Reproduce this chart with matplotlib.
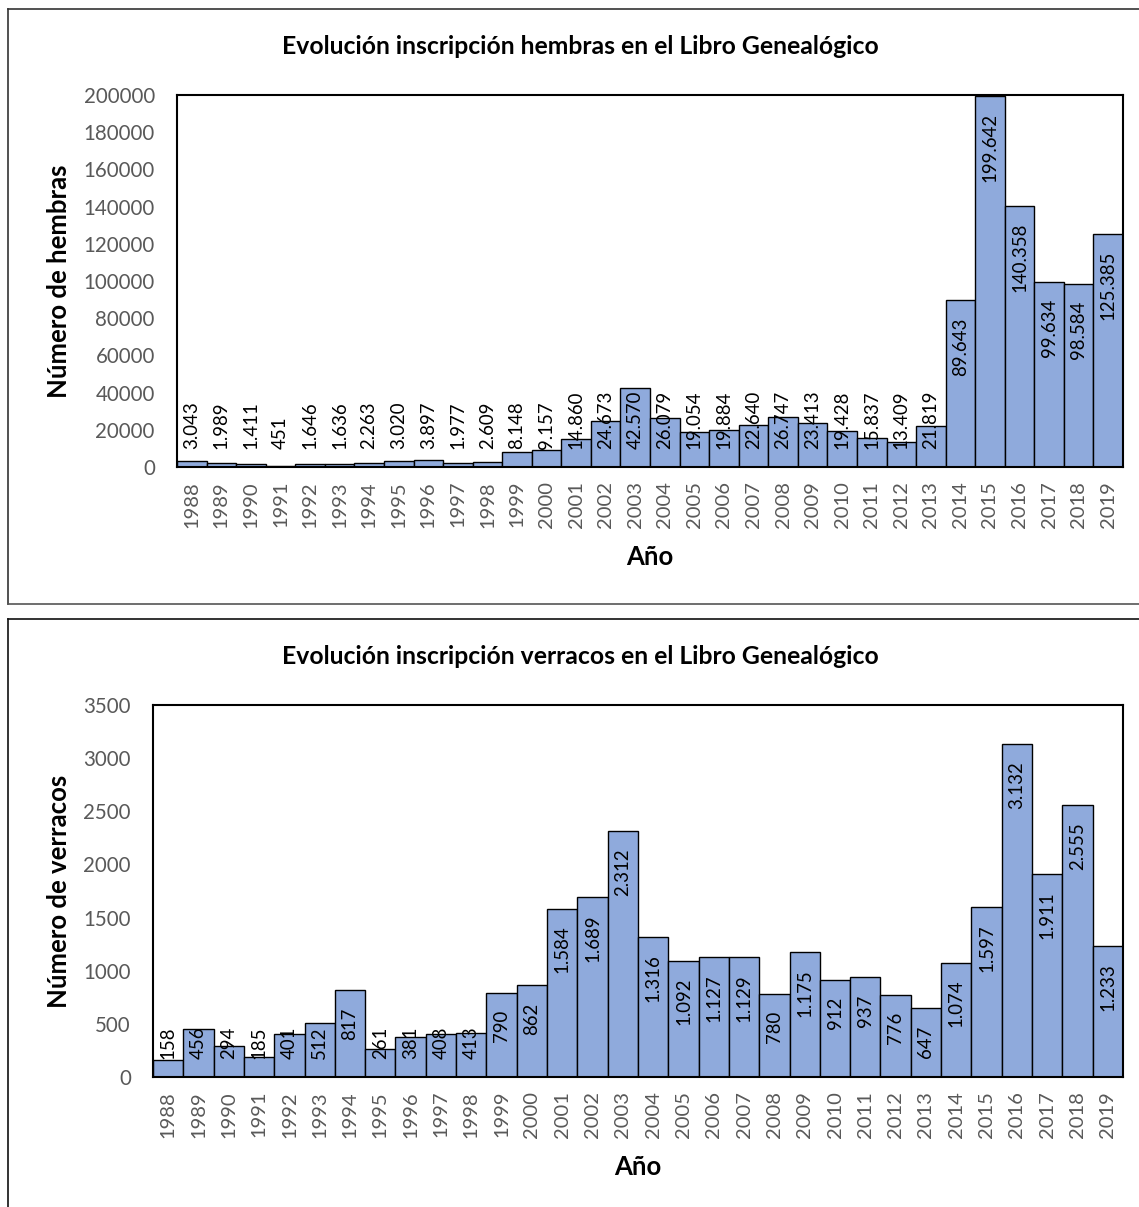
import matplotlib
matplotlib.use("Agg")
import matplotlib.pyplot as plt
from matplotlib.lines import Line2D

plt.rcParams['font.family'] = ['Lato', 'DejaVu Sans']

years = ["1988", "1989", "1990", "1991", "1992", "1993", "1994", "1995",
         "1996", "1997", "1998", "1999", "2000", "2001", "2002", "2003",
         "2004", "2005", "2006", "2007", "2008", "2009", "2010", "2011",
         "2012", "2013", "2014", "2015", "2016", "2017", "2018", "2019"]

hembras = [3043, 1989, 1411, 451, 1646, 1636, 2263, 3020,
           3897, 1977, 2609, 8148, 9157, 14860, 24673, 42570,
           26079, 19054, 19884, 22640, 26747, 23413, 19428, 15837,
           13409, 21819, 89643, 199642, 140358, 99634, 98584, 125385]

verracos = [158, 456, 294, 185, 401, 512, 817, 261,
            381, 408, 413, 790, 862, 1584, 1689, 2312,
            1316, 1092, 1127, 1129, 780, 1175, 912, 937,
            776, 647, 1074, 1597, 3132, 1911, 2555, 1233]

title_h = "Evolución inscripción hembras en el Libro Genealógico"
title_v = "Evolución inscripción verracos en el Libro Genealógico"
ylabel_h = "Número de hembras"
ylabel_v = "Número de verracos"
xlabel = "Año"

W, H = 1139, 1207
DPI = 100
BAR_COLOR = "#8FAADC"
TICK_GRAY = "#595959"

fig = plt.figure(figsize=(W / DPI, H / DPI), dpi=DPI)
fig.patch.set_facecolor("white")


def fx(px):
    return px / W


def fy(py):
    return 1 - py / H


def hline(x0, x1, y, color):
    fig.add_artist(Line2D([fx(x0), fx(x1)], [fy(y), fy(y)],
                          transform=fig.transFigure, color=color, lw=1.2))


def vline(x, y0, y1, color):
    fig.add_artist(Line2D([fx(x), fx(x)], [fy(y0), fy(y1)],
                          transform=fig.transFigure, color=color, lw=1.2))


# chart frames
hline(8, W + 5, 9, "#333333")
vline(8, 9, 604, "#333333")
hline(8, W + 5, 604, "#555555")
hline(8, W + 5, 619, "#111111")
vline(8, 619, H + 5, "#111111")


def fmt(v):
    return f"{v:,}".replace(",", ".")


def make_chart(left, top, right, bottom, values, ymax, ystep,
               title, ylabel, title_y, ylab_x, xlab_y):
    ax = fig.add_axes([fx(left), fy(bottom), fx(right) - fx(left),
                       fy(top) - fy(bottom)])
    x = list(range(len(values)))
    ax.bar(x, values, width=1.0, color=BAR_COLOR, edgecolor="black",
           linewidth=1.0, zorder=2)
    ax.set_xlim(-0.5, len(values) - 0.5)
    ax.set_ylim(0, ymax)
    ax.set_yticks(list(range(0, ymax + 1, ystep)))
    ax.set_yticklabels([str(t) for t in range(0, ymax + 1, ystep)],
                       fontsize=14.8, color=TICK_GRAY)
    ax.set_xticks(x)
    ax.set_xticklabels(years, rotation=90, fontsize=14.5, color=TICK_GRAY)
    ax.tick_params(axis="both", length=0)
    ax.tick_params(axis="y", pad=16)
    ax.tick_params(axis="x", pad=10)
    for s in ax.spines.values():
        s.set_linewidth(1.5)
        s.set_color("black")

    fig.text(fx(580), fy(title_y), title, ha="center", va="center",
             fontsize=17.8, fontweight="bold", color="black")
    fig.text(fx(ylab_x), fy((top + bottom) / 2), ylabel, rotation=90,
             ha="center", va="center", fontsize=18.5, fontweight="bold")
    fig.text(fx((left + right) / 2), fy(xlab_y), xlabel, ha="center",
             va="center", fontsize=18.5, fontweight="bold")

    # value labels: inside the bar end, kept clear of the baseline
    fig.canvas.draw()
    r = fig.canvas.get_renderer()
    tr = ax.transData
    base_px = tr.transform((0, 0))[1]
    for i, v in enumerate(values):
        t = ax.text(i, v, fmt(v), rotation=90, ha="center", va="bottom",
                    fontsize=13.4, color="black", zorder=3)
        h = t.get_window_extent(r).height
        top_px = tr.transform((i, v))[1]
        bottom_px = max(top_px - 17 - h, base_px + 18)
        t.set_y(tr.inverted().transform((0, bottom_px))[1])
    return ax


make_chart(177, 95, 1123, 467, hembras, 200000, 20000,
           title_h, ylabel_h, 47, 59, 557)
make_chart(153, 705, 1123, 1077, verracos, 3500, 500,
           title_v, ylabel_v, 657, 59, 1167)

fig.savefig("out.png", dpi=DPI, facecolor="white")
